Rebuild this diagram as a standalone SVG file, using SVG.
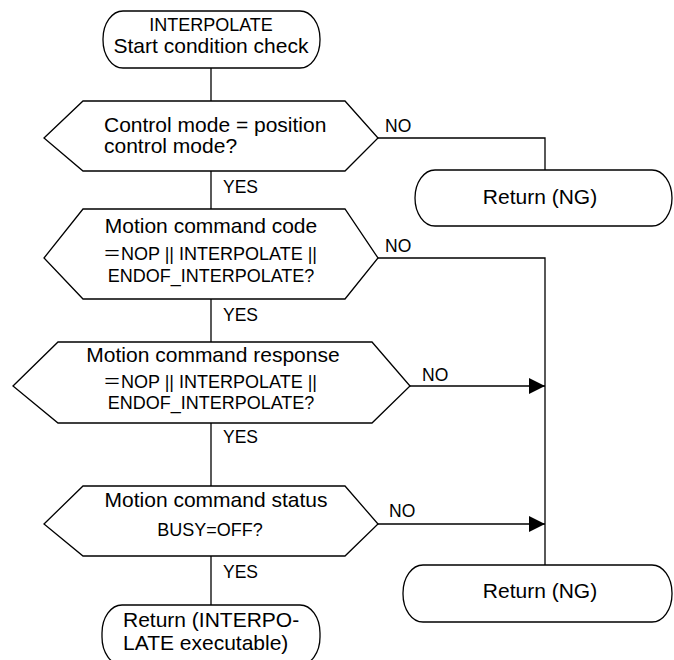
<svg xmlns="http://www.w3.org/2000/svg" width="674" height="660" viewBox="0 0 674 660">
<defs>
<style>
.s{fill:#fff;stroke:#000;stroke-width:1.3}
.c{fill:none;stroke:#000;stroke-width:1.3}
text{font-family:"Liberation Sans",Arial,"Noto Sans CJK JP",sans-serif;fill:#000}
.b{font-size:21px}
.m{font-size:18px}
.l{font-size:17.5px}
.mid{text-anchor:middle}
</style>
<marker id="ah" markerUnits="userSpaceOnUse" markerWidth="17" markerHeight="17" refX="16" refY="8" orient="auto">
<path d="M0,0 L16,8 L0,16 Z" fill="#000"/>
</marker>
</defs>
<rect width="674" height="660" fill="#fff"/>
<g id="connectors">
<path class="c" d="M211,68 V101"/>
<path class="c" d="M211,171 V209"/>
<path class="c" d="M211,299 V342"/>
<path class="c" d="M211,423 V486"/>
<path class="c" d="M211,556 V605"/>
<path class="c" d="M378,138 H545 V170"/>
<path class="c" d="M378,258 H545 V565"/>
<path class="c" d="M410,386 H545" marker-end="url(#ah)"/>
<path class="c" d="M378,524 H545" marker-end="url(#ah)"/>
<text class="l" x="223" y="193">YES</text>
<text class="l" x="223" y="321">YES</text>
<text class="l" x="223" y="443">YES</text>
<text class="l" x="223" y="578">YES</text>
<text class="l" x="385" y="132">NO</text>
<text class="l" x="385" y="252">NO</text>
<text class="l" x="422" y="381">NO</text>
<text class="l" x="389" y="517">NO</text>
</g>
<g id="start">
<rect class="s" x="103" y="11" width="217" height="57" rx="20" ry="28"/>
<text class="m mid" x="211" y="31">INTERPOLATE</text>
<text class="b mid" x="211" y="53">Start condition check</text>
</g>
<g id="dec1">
<polygon class="s" points="83,101 345,101 378,138 345,171 83,171 44,138"/>
<text class="b" x="104" y="132">Control mode = position</text>
<text class="b" x="104" y="153">control mode?</text>
</g>
<g id="ret1">
<rect class="s" x="415" y="170" width="257" height="56" rx="20" ry="28"/>
<text class="b mid" x="540" y="204">Return (NG)</text>
</g>
<g id="dec2">
<polygon class="s" points="83,209 345,209 378,258 345,299 83,299 44,258"/>
<text class="b mid" x="211" y="233">Motion command code</text>
<text class="m mid" x="210" y="260">＝NOP || INTERPOLATE ||</text>
<text class="m mid" x="211" y="282">ENDOF_INTERPOLATE?</text>
</g>
<g id="dec3">
<polygon class="s" points="58,342 372,342 410,386 372,423 58,423 13,386"/>
<text class="b mid" x="213" y="362">Motion command response</text>
<text class="m mid" x="210" y="388">＝NOP || INTERPOLATE ||</text>
<text class="m mid" x="211" y="409">ENDOF_INTERPOLATE?</text>
</g>
<g id="dec4">
<polygon class="s" points="83,486 345,486 378,524 345,556 83,556 44,524"/>
<text class="b mid" x="216" y="507">Motion command status</text>
<text class="m mid" x="210" y="536">BUSY=OFF?</text>
</g>
<g id="ret2">
<rect class="s" x="403" y="565" width="269" height="57" rx="20" ry="28"/>
<text class="b mid" x="540" y="598">Return (NG)</text>
</g>
<g id="end">
<rect class="s" x="102" y="605" width="218" height="60" rx="20" ry="28"/>
<text class="b" x="123" y="627">Return (INTERPO-</text>
<text class="b" x="123" y="650">LATE executable)</text>
</g>
</svg>
